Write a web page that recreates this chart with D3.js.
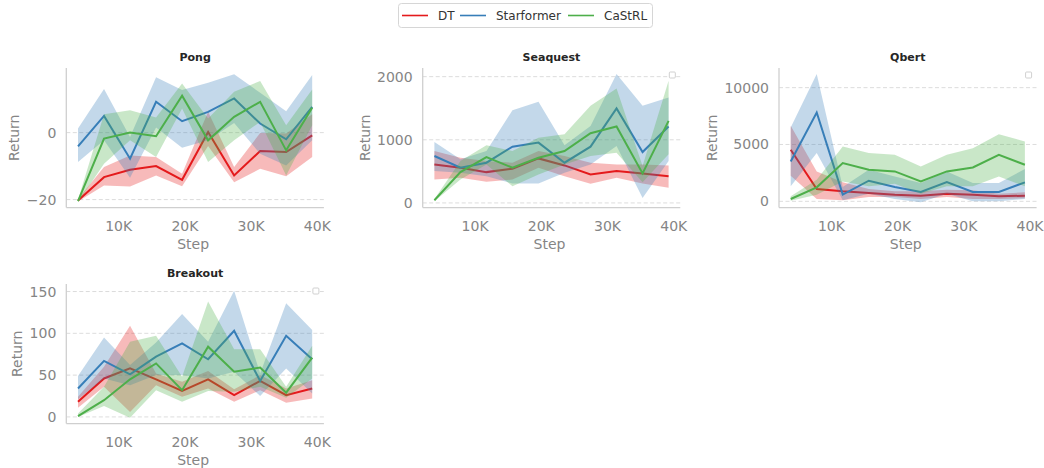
<!DOCTYPE html>
<html><head><meta charset="utf-8">
<script src="https://cdn.jsdelivr.net/npm/d3@7"></script>
<style>body{margin:0;background:#fff;} svg{display:block;font-family:"DejaVu Sans",sans-serif;}</style>
</head><body>
<svg id="chart" width="1044" height="468"></svg>
<script>
const steps = [3930, 7860, 11790, 15720, 19650, 23580, 27510, 31440, 35370, 39300];
const seriesNames = ["DT", "Starformer", "CaStRL"];
const colors = ["#e41a1c", "#377eb8", "#4daf4a"];
const xTicks = [10000, 20000, 30000, 40000];

// Pong
const pongMean = [[-20.3,-13.3,-11.1,-10,-14.1,0.2,-12.8,-5.5,-5.8,-0.8],[-4.1,5,-7.8,9.2,3.4,6.2,10.2,2.7,-2,7.7],[-20.5,-1.8,0,-1.1,11,-2.3,4.7,9.2,-5.3,7.4]];
const pongLow  = [[-20.6,-15.8,-16.1,-12.8,-16,-4,-14.8,-10.8,-13,-7.3],[-8.8,-2.3,-13.5,1.5,-4.5,-2.3,2.9,-6.3,-9.8,-2.3],[-20.8,-9.3,-2.3,-7.3,7.2,-8.8,-2.3,3.2,-12.8,2.2]];
const pongHigh = [[-19.8,-10.3,-6.8,-7.3,-12.3,6.2,-10.3,-0.1,-0.3,5.5],[1.2,13,-1.3,16.5,12.7,14.9,17.4,11.9,6.4,17.2],[-20.1,5.5,6.7,4.5,14.7,4.2,12.2,15.4,2.2,12.9]];
const pongTicks = [-20, 0];

// Seaquest
const seaMean = [[610,557,488,541,705,594,451,504,467,424],[743,557,637,891,955,637,891,1496,806,1210],[42,488,727,557,716,822,1103,1210,467,1300]];
const seaLow  = [[371,398,334,371,557,424,302,398,308,239],[504,477,424,308,308,477,610,902,80,663],[27,371,610,265,451,610,743,796,329,769]];
const seaHigh = [[822,716,663,637,822,743,637,610,610,594],[966,690,822,1469,1602,912,1220,2042,1538,1671],[64,663,912,822,1034,1088,1538,1814,584,1936]];
const seaTicks = [0, 1000, 2000];

// Qbert
const qbMean = [[4532,1082,877,731,585,497,673,585,439,497],[3509,7807,585,1813,1257,819,1696,819,819,1667],[205,1228,3363,2778,2632,1754,2632,2982,4094,3216]];
const qbLow  = [[2251,205,88,380,380,205,380,205,205,263],[1316,4240,88,673,205,-88,673,0,0,205],[58,585,1754,1316,1550,673,1316,1316,2193,1316]];
const qbHigh = [[6637,2632,1667,1082,877,877,1023,965,673,790],[6491,11199,1257,2778,2193,1608,2632,1608,1608,2836],[439,1901,4825,4240,4094,3070,4094,4678,5906,5263]];
const qbTicks = [0, 5000, 10000];

// Breakout
const brMean = [[18,46,58,45,31,45,26,43,26,34],[34,67,51,72,88,69,103,43,97,69],[1,20,45,64,32,84,54,59,29,71]];
const brLow  = [[11,36,6,38,24,34,18,32,17,22],[21,46,38,50,50,46,54,25,58,28],[0,13,-1,32,18,31,30,36,23,46]];
const brHigh = [[24,60,109,52,42,55,33,50,34,44],[49,95,62,89,123,90,151,52,136,104],[4,36,90,97,48,138,81,81,36,85]];
const brTicks = [0, 50, 100, 150];

const panels = [
  {title:"Pong", mean:pongMean, low:pongLow, high:pongHigh, ticks:pongTicks, domain:[-22.4,19.3], left:66.3, top:68, emptyLegend:false},
  {title:"Seaquest", mean:seaMean, low:seaLow, high:seaHigh, ticks:seaTicks, domain:[-74,2137], left:422.7, top:68, emptyLegend:true},
  {title:"Qbert", mean:qbMean, low:qbLow, high:qbHigh, ticks:qbTicks, domain:[-553,11728], left:779, top:68, emptyLegend:true},
  {title:"Breakout", mean:brMean, low:brLow, high:brHigh, ticks:brTicks, domain:[-8,159], left:66.3, top:284, emptyLegend:true}
];

const W = 257.6, H = 139.6;
const svg = d3.select("#chart");
const fmtTick = v => (v < 0 ? "\u2212" + Math.abs(v) : String(v));

panels.forEach(p => {
  const g = svg.append("g").attr("transform", `translate(${p.left},${p.top})`);
  const span = steps[steps.length-1] - steps[0];
  const x = d3.scaleLinear().domain([steps[0]-0.05*span, steps[steps.length-1]+0.05*span]).range([0, W]);
  const y = d3.scaleLinear().domain(p.domain).range([H, 0]);

  // grid
  g.append("g").selectAll("line").data(p.ticks).join("line")
    .attr("x1", 0).attr("x2", W).attr("y1", d => y(d)).attr("y2", d => y(d))
    .attr("stroke", "#d8d8d8").attr("stroke-width", 0.9).attr("stroke-dasharray", "4,2.5");

  // series
  seriesNames.forEach((s, i) => {
    const rows = steps.map((st, j) => ({x: st, m: p.mean[i][j], lo: p.low[i][j], hi: p.high[i][j]}));
    g.append("path").datum(rows)
      .attr("d", d3.area().x(d => x(d.x)).y0(d => y(d.lo)).y1(d => y(d.hi)))
      .attr("fill", colors[i]).attr("fill-opacity", 0.3).attr("stroke", "none");
    g.append("path").datum(rows)
      .attr("d", d3.line().x(d => x(d.x)).y(d => y(d.m)))
      .attr("fill", "none").attr("stroke", colors[i]).attr("stroke-width", 2);
  });

  // axes
  const xAxis = g.append("g").attr("transform", `translate(0,${H})`)
    .call(d3.axisBottom(x).tickValues(xTicks).tickSize(0).tickPadding(13).tickFormat(d => (d/1000) + "K"));
  const yAxis = g.append("g")
    .call(d3.axisLeft(y).tickValues(p.ticks).tickSize(0).tickPadding(10).tickFormat(fmtTick));
  [xAxis, yAxis].forEach(a => {
    a.select(".domain").attr("stroke", "#cfcfcf").attr("stroke-width", 1.3);
    a.selectAll("text").attr("fill", "#858585").style("font-size", "14px").style("font-family", "DejaVu Sans");
  });
  xAxis.select(".domain").attr("d", `M0,0H${W}`);
  yAxis.select(".domain").attr("d", `M0,0V${H}`);

  // labels
  let minX = 0;
  yAxis.selectAll("text").each(function(){ const b = this.getBBox(); minX = Math.min(minX, b.x); });
  g.append("text").attr("transform", `translate(${minX - 7.5},${H/2}) rotate(-90)`)
    .attr("text-anchor", "middle").attr("fill", "#858585").style("font-size", "14px").text("Return");
  g.append("text").attr("x", W/2 - 2).attr("y", H + 41).attr("text-anchor", "middle")
    .attr("fill", "#858585").style("font-size", "14px").text("Step");
  g.append("text").attr("x", W/2).attr("y", -7.5).attr("text-anchor", "middle")
    .attr("fill", "#262626").style("font-size", "11px").style("font-weight", "bold").text(p.title);

  if (p.emptyLegend) {
    g.append("rect").attr("x", W - 11).attr("y", 4).attr("width", 6).attr("height", 6).attr("rx", 1)
      .attr("fill", "#fff").attr("stroke", "#d0d0d0").attr("stroke-width", 1);
  }
});

// legend
const leg = svg.append("g");
leg.append("rect").attr("x", 398.5).attr("y", 3.5).attr("width", 254).attr("height", 24).attr("rx", 3)
  .attr("fill", "#fff").attr("stroke", "#d6d6d6").attr("stroke-width", 1);
const legX = [402, 460, 568];
seriesNames.forEach((s, i) => {
  leg.append("line").attr("x1", legX[i]).attr("x2", legX[i] + 26).attr("y1", 15.5).attr("y2", 15.5)
    .attr("stroke", colors[i]).attr("stroke-width", 1.6);
  leg.append("text").attr("x", legX[i] + 36).attr("y", 20).attr("fill", "#333")
    .style("font-size", "12px").text(s);
});
</script>
</body></html>
